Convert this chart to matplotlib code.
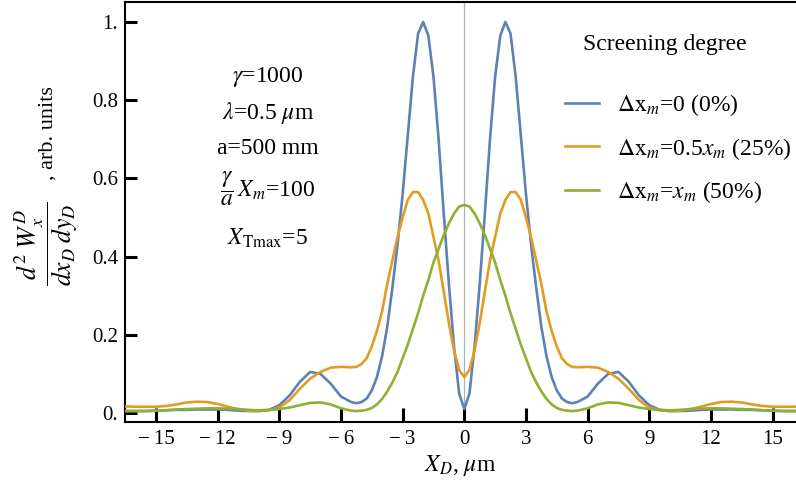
import numpy as np
import matplotlib
matplotlib.use("Agg")
import matplotlib.pyplot as plt

plt.rcParams['font.family'] = 'serif'
plt.rcParams['font.serif'] = ['Liberation Serif', 'DejaVu Serif']
plt.rcParams['mathtext.fontset'] = 'stix'

# profiles are symmetric about X_D = 0, values read for X_D >= 0
x_half = [0.0, 0.25, 0.5, 0.75, 1.0, 1.25, 1.5, 1.75, 2.0, 2.25, 2.5, 2.75,
          3.0, 3.25, 3.5, 3.75, 4.0, 4.25, 4.5, 4.75, 5.0, 5.25, 5.5, 6.0,
          6.5, 7.0, 7.5, 8.0, 8.5, 9.0, 9.5, 10.0, 10.5, 11.0, 11.5, 12.0,
          12.5, 13.0, 13.5, 14.0, 14.5, 15.0, 15.5, 16.0, 16.5]

blue_half = [0.01, 0.05, 0.17, 0.33, 0.51, 0.70, 0.86, 0.965, 1.0, 0.97, 0.86, 0.71,
             0.56, 0.43, 0.32, 0.22, 0.145, 0.092, 0.058, 0.037, 0.028, 0.025, 0.028, 0.042,
             0.075, 0.100, 0.105, 0.080, 0.045, 0.020, 0.008, 0.005, 0.005, 0.006, 0.008, 0.009,
             0.009, 0.009, 0.008, 0.008, 0.007, 0.006, 0.005, 0.005, 0.005]

orange_half = [0.092, 0.11, 0.16, 0.23, 0.31, 0.39, 0.45, 0.51, 0.545, 0.565, 0.565, 0.545,
               0.50, 0.45, 0.39, 0.33, 0.26, 0.21, 0.17, 0.14, 0.125, 0.118, 0.117, 0.118,
               0.116, 0.105, 0.088, 0.062, 0.033, 0.014, 0.007, 0.005, 0.006, 0.010, 0.016, 0.023,
               0.028, 0.029, 0.027, 0.022, 0.018, 0.016, 0.016, 0.016, 0.017]

green_half = [0.532, 0.528, 0.51, 0.485, 0.455, 0.42, 0.385, 0.34, 0.30, 0.255, 0.215, 0.175,
              0.14, 0.105, 0.078, 0.055, 0.036, 0.022, 0.013, 0.008, 0.006, 0.005, 0.006, 0.012,
              0.022, 0.027, 0.026, 0.020, 0.014, 0.010, 0.008, 0.007, 0.008, 0.010, 0.011, 0.012,
              0.012, 0.011, 0.010, 0.009, 0.007, 0.006, 0.005, 0.005, 0.005]

labels = [r"$\Delta\mathrm{x}_m$=0 (0%)",
          r"$\Delta\mathrm{x}_m$=0.5$x_m$ (25%)",
          r"$\Delta\mathrm{x}_m$=$x_m$ (50%)"]
colors = ["#5E81B5", "#E19C24", "#8FB032"]

x_ticks = [-15, -12, -9, -6, -3, 0, 3, 6, 9, 12, 15]
y_ticks = [0.0, 0.2, 0.4, 0.6, 0.8, 1.0]
y_ticklabels = ["0.", "0.2", "0.4", "0.6", "0.8", "1."]


def mirror(half):
    half = np.asarray(half)
    return np.concatenate([half[:0:-1], half])


xs = np.concatenate([-np.asarray(x_half)[:0:-1], np.asarray(x_half)])

fig = plt.figure(figsize=(7.96, 4.95), dpi=100)
ax = fig.add_axes([125/796, 73/495, 671/796, 420/495])

ax.axvline(0, color="#b0b0b0", lw=0.9, zorder=1)
for vals, c, lab in zip([blue_half, orange_half, green_half], colors, labels):
    ax.plot(xs, mirror(vals), color=c, lw=1.9, label=lab, zorder=3)

ax.set_xlim(-16.51, 16.14)
ax.set_ylim(-0.023, 1.051)
ax.set_xticks(x_ticks)
ax.set_xticklabels([str(t).replace("-", "\u2212\u2009") for t in x_ticks])
ax.set_yticks(y_ticks)
ax.set_yticklabels(y_ticklabels)
ax.tick_params(axis="x", direction="in", length=10, width=2.2, labelsize=15, pad=6)
ax.tick_params(axis="y", direction="in", length=8.5, width=2.2, labelsize=15, pad=5)
ax.spines["right"].set_visible(False)
for s in ["left", "bottom", "top"]:
    ax.spines[s].set_linewidth(1.5)

ax.set_xlabel(r"$X_D$, $\mu$m", fontsize=17, labelpad=3)
# y label: big fraction plus ", arb. units"
fig.text(46/796, 1 - 244/495, r"$\dfrac{d^2\;W_x^D}{dx_D\;dy_D}$",
         rotation=90, ha="center", va="center", fontsize=18.5)
fig.text(48/796, 1 - 133/495, ", arb. units",
         rotation=90, ha="center", va="center", fontsize=16)

tx = 0.213
ax.text(tx, 0.821, r"$\gamma$=1000", transform=ax.transAxes, ha="center", va="center", fontsize=17)
ax.text(tx, 0.736, r"$\lambda$=0.5 $\mu$m", transform=ax.transAxes, ha="center", va="center", fontsize=17)
ax.text(tx, 0.652, "a=500 mm", transform=ax.transAxes, ha="center", va="center", fontsize=17)
ax.text(tx, 0.555, r"$\dfrac{\gamma}{a}\,X_m$=100", transform=ax.transAxes, ha="center", va="center", fontsize=17)
ax.text(tx, 0.438, r"$X_{\mathrm{Tmax}}$=5", transform=ax.transAxes, ha="center", va="center", fontsize=17)

ax.text(0.805, 0.898, "Screening degree", transform=ax.transAxes, ha="center", va="center", fontsize=17)
ax.legend(loc="upper left", bbox_to_anchor=(0.656, (422 - 92)/420), frameon=False,
          borderpad=0, borderaxespad=0, handlelength=1.45, handletextpad=0.75,
          labelspacing=0.75, fontsize=17)

fig.savefig("out.png", dpi=100)
